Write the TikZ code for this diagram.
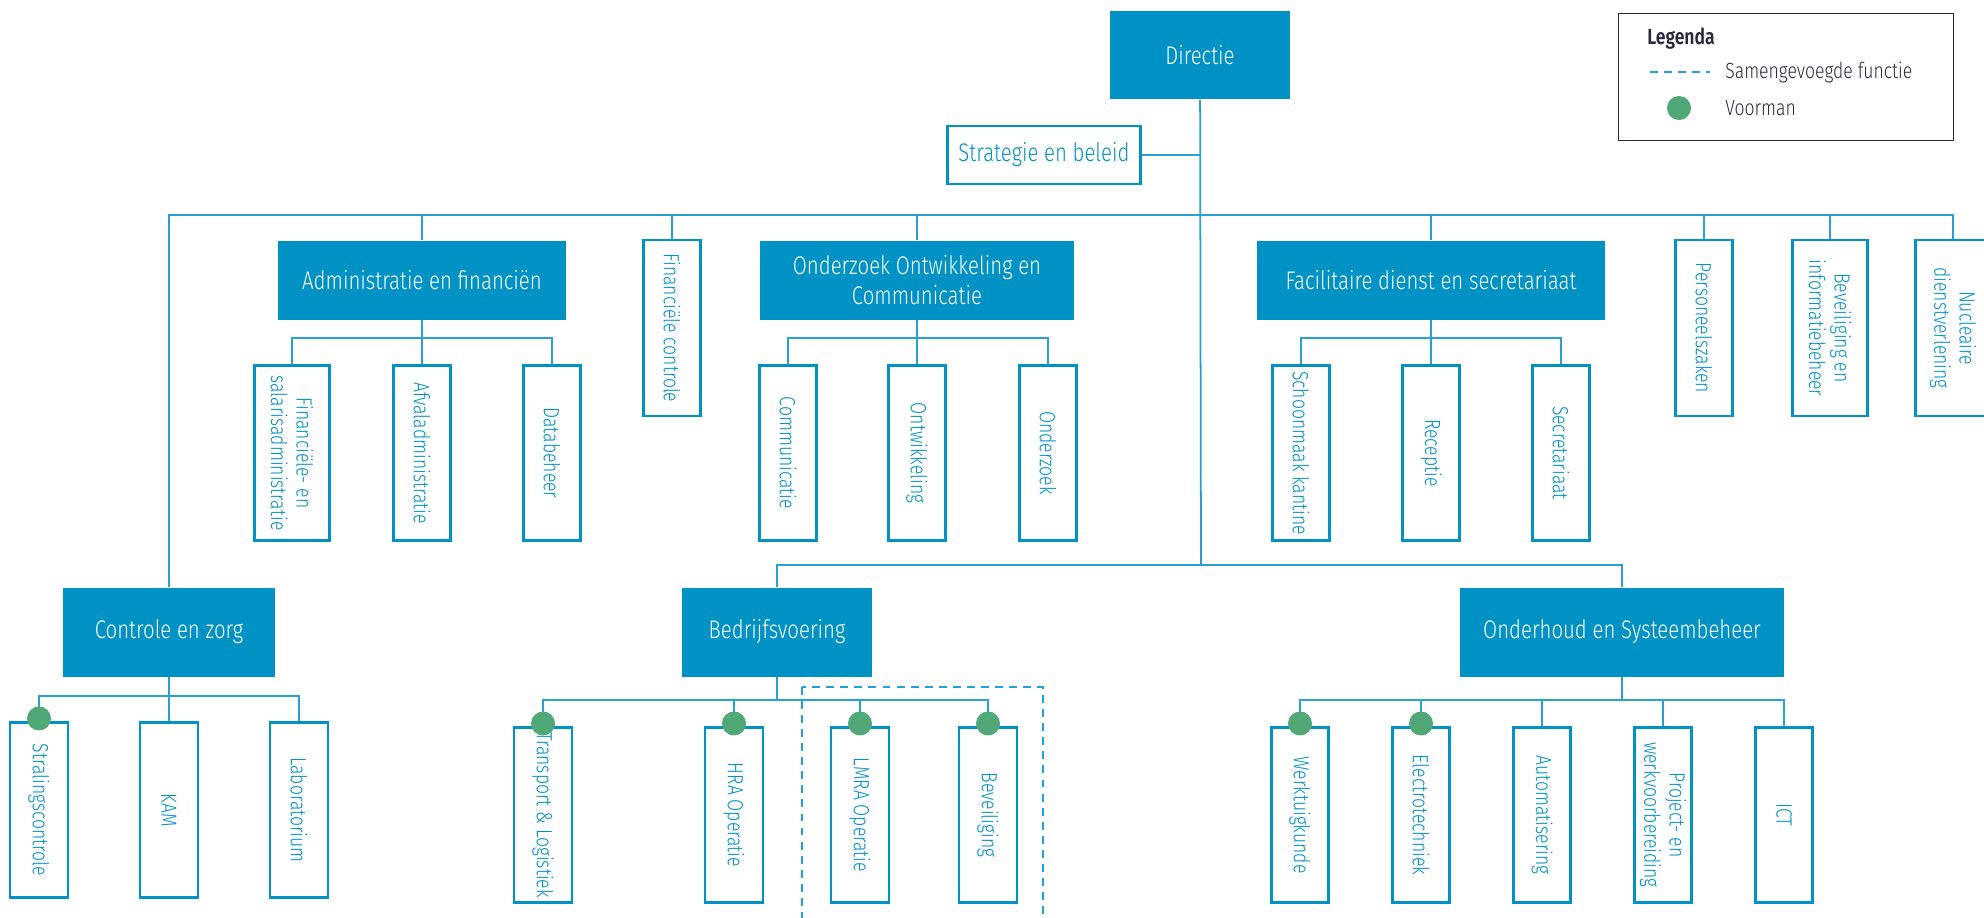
\documentclass[tikz,border=0pt]{standalone}
\usepackage{fontspec}
\setmainfont{Fira Sans Light}[FakeStretch=0.8, BoldFont={Fira Sans SemiBold}]
\usetikzlibrary{positioning}
\definecolor{ozblue}{RGB}{0,145,197}
\definecolor{lnblue}{RGB}{40,160,210}
\definecolor{dsblue}{RGB}{30,160,225}
\definecolor{vgreen}{RGB}{80,168,118}
\definecolor{lgdark}{RGB}{40,40,64}

\begin{document}
\begin{tikzpicture}[
    x=0.02cm, y=-0.02cm,
    font=\fontsize{12.5}{14.5}\selectfont
]
\tikzset{
    hoofd/.style = {rectangle, fill=ozblue, text=white, align=center, inner sep=2pt, font=\fontsize{14.5}{17}\selectfont},
    staf/.style = {rectangle, draw=ozblue, line width=1.4pt, fill=white, text=ozblue, align=center, font=\fontsize{14.5}{17}\selectfont},
    afd/.style = {rectangle, draw=ozblue, line width=1.6pt, fill=white, text=ozblue, align=center, rotate=-90,
                  inner xsep=1pt, inner ysep=2pt, minimum width=3.5cm, minimum height=1.14cm},
    edgen/.style = {draw=lnblue, line width=1pt},
    voorman/.style = {circle, fill=vgreen, minimum size=0.48cm, inner sep=0pt},
    sameng/.style = {draw=dsblue, line width=1.1pt, dash pattern=on 4.5pt off 3.5pt},
    lgtekst/.style = {anchor=west, inner sep=0pt, text=lgdark, font=\fontsize{12.5}{15}\selectfont}
}
\useasboundingbox (0,0) rectangle (1984,917);
\node[hoofd, minimum width=3.6cm, minimum height=1.78cm] at (1200,55) (dir) {Directie};
\node[staf, minimum width=3.86cm, minimum height=1.16cm] at (1044,155) (strat) {Strategie en beleid};
\node[hoofd, minimum width=5.78cm, minimum height=1.58cm] at (422,280) (adm) {Administratie en financiën};
\node[afd, minimum width=3.52cm] at (672,328) (fctl) {Financiële controle};
\node[hoofd, minimum width=6.3cm, minimum height=1.58cm] at (917,280) (ooc) {Onderzoek Ontwikkeling en\\Communicatie};
\node[hoofd, minimum width=6.98cm, minimum height=1.58cm] at (1431,280) (fac) {Facilitaire dienst en secretariaat};
\node[afd, minimum width=3.52cm] at (1704,328) (pz) {Personeelszaken};
\node[afd, minimum width=3.52cm, minimum height=1.5cm] at (1830,328) (bib) {Beveiliging en\\informatiebeheer};
\node[afd, minimum width=3.52cm, minimum height=1.5cm] at (1953,328) (nuc) {Nucleaire\\dienstverlening};

\node[afd, minimum height=1.5cm] at (292,453) (a1) {Financiële- en\\salarisadministratie};
\node[afd] at (422,453) (a2) {Afvaladministratie};
\node[afd] at (552,453) (a3) {Databeheer};
\node[afd] at (788,453) (o1) {Communicatie};
\node[afd] at (917,453) (o2) {Ontwikkeling};
\node[afd] at (1048,453) (o3) {Onderzoek};
\node[afd] at (1301,453) (f1) {Schoonmaak kantine};
\node[afd] at (1431,453) (f2) {Receptie};
\node[afd] at (1561,453) (f3) {Secretariaat};

\node[hoofd, minimum width=4.24cm, minimum height=1.78cm] at (169,632) (cz) {Controle en zorg};
\node[hoofd, minimum width=3.8cm, minimum height=1.78cm] at (777,632) (bv) {Bedrijfsvoering};
\node[hoofd, minimum width=6.48cm, minimum height=1.78cm] at (1622,632) (oh) {Onderhoud en Systeembeheer};

\node[afd, minimum height=1.16cm] at (39,810) (c1) {Stralingscontrole};
\node[afd, minimum height=1.16cm] at (169,810) (c2) {KAM};
\node[afd, minimum height=1.16cm] at (299,810) (c3) {Laboratorium};
\node[afd, minimum height=1.16cm] at (543,815) (b1) {Transport \& Logistiek};
\node[afd, minimum height=1.16cm] at (734,815) (b2) {HRA Operatie};
\node[afd, minimum height=1.16cm] at (860,815) (b3) {LMRA Operatie};
\node[afd, minimum height=1.16cm] at (988,815) (b4) {Beveiliging};
\node[afd] at (1300,815) (h1) {Werktuigkunde};
\node[afd] at (1421,815) (h2) {Electrotechniek};
\node[afd] at (1542,815) (h3) {Automatisering};
\node[afd] at (1663,815) (h4) {Project- en\\werkvoorbereiding};
\node[afd] at (1784,815) (h5) {ICT};

\coordinate (top) at (1201,215);
\coordinate (low) at (1201,565);
\coordinate (ab) at (422,338);
\coordinate (ob) at (917,338);
\coordinate (fb) at (1431,338);
\coordinate (cb) at (169,696);
\coordinate (bb) at (777,700);
\coordinate (hb) at (1622,700);

\draw[edgen] (dir) -- (low);
\draw[edgen] (strat) -- (strat -| dir);
\draw[edgen] (cz) |- (top) -| (nuc);
\foreach \n in {adm,fctl,ooc,fac,pz,bib}
    \draw[edgen] (\n) -- (\n |- top);
\draw[edgen] (bv) |- (low) -| (oh);
\draw[edgen] (a1) |- (ab) -| (a3);
\draw[edgen] (adm) -- (a2);
\draw[edgen] (o1) |- (ob) -| (o3);
\draw[edgen] (ooc) -- (o2);
\draw[edgen] (f1) |- (fb) -| (f3);
\draw[edgen] (fac) -- (f2);
\draw[edgen] (c1) |- (cb) -| (c3);
\draw[edgen] (cz) -- (c2);
\draw[edgen] (b1) |- (bb) -| (b4);
\foreach \n in {bv,b2,b3}
    \draw[edgen] (\n) -- (\n |- bb);
\draw[edgen] (h1) |- (hb) -| (h5);
\foreach \n in {oh,h2,h3,h4}
    \draw[edgen] (\n) -- (\n |- hb);

\foreach \n in {c1,b1,b2,b3,b4,h1,h2}
    \node[voorman] (v\n) at ([yshift=1.5pt]\n.west) {};

\draw[sameng] (802,687) rectangle (1043,940);

\node[draw=lgdark, line width=1pt, minimum width=6.7cm, minimum height=2.54cm] at (1786,77) (leg) {};
\node[lgtekst, font=\fontsize{12.5}{15}\selectfont\bfseries] at (1647,39) (lgt) {Legenda};
\coordinate (ls) at (1650,72);
\coordinate (le) at (1710,72);
\draw[sameng] (ls) -- (le);
\node[voorman] at (1679,108) (lvm) {};
\node[lgtekst] at (1725,72) (lsam) {Samengevoegde functie};
\node[lgtekst] at (1725,108) (lvoor) {Voorman};
\end{tikzpicture}
\end{document}
